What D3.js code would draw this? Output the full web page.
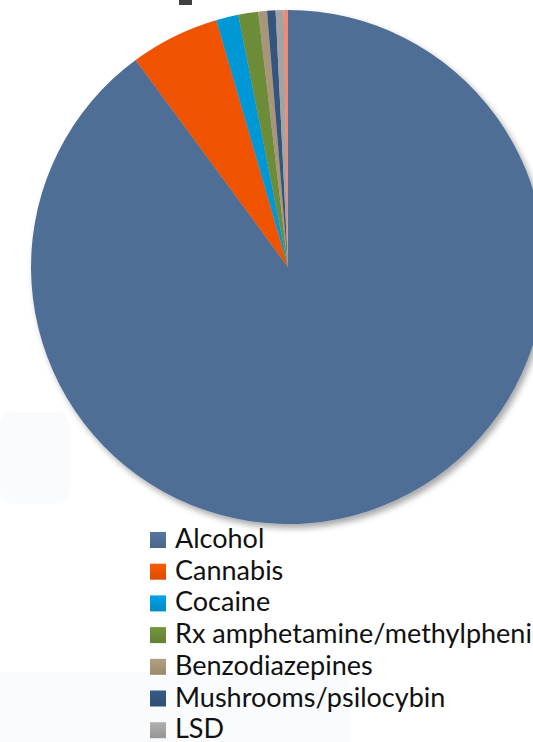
<!DOCTYPE html>
<html lang="en">
<head>
  <meta charset="UTF-8">
  <title>Substance pie</title>
  <script src="https://d3js.org/d3.v7.min.js"></script>
  <style>
    body { margin: 0; background: #fff; }
    text { font-family: Lato, "Open Sans", sans-serif; }
  </style>
</head>
<body>
  <div id="chart"></div>

  <script type="text/javascript">

  var w = 533;
  var h = 742;

  // data (share of total, %)
  var categories = ["Alcohol", "Cannabis", "Cocaine", "Rx amphetamine/methylphenidate",
                    "Benzodiazepines", "Mushrooms/psilocybin", "LSD", "Ecstasy/MDMA"];
  var values = [89.9, 5.6, 1.4, 1.25, 0.55, 0.53, 0.5, 0.27];
  var colors = ["#506E96", "#F05300", "#0097D6", "#6C8C38", "#A8967A", "#34557F", "#A3A3A3", "#F08A74"];

  var cx = 288, cy = 267;
  var outerRadius = 257;

  var svg = d3.select('#chart')
    .append('svg')
    .attr('width', w)
    .attr('height', h);

  var defs = svg.append("defs");
  var shadow = defs.append("filter")
    .attr("id", "shadow")
    .attr("x", "-10%").attr("y", "-10%")
    .attr("width", "125%").attr("height", "125%");
  shadow.append("feDropShadow")
    .attr("dx", 3).attr("dy", 4)
    .attr("stdDeviation", 3)
    .attr("flood-color", "#000")
    .attr("flood-opacity", 0.35);

  // legend swatches have a soft top-to-bottom shading
  colors.forEach(function(c, i) {
    var g = defs.append("linearGradient")
      .attr("id", "sw" + i)
      .attr("x1", 0).attr("y1", 0).attr("x2", 0).attr("y2", 1);
    g.append("stop").attr("offset", "0%").attr("stop-color", d3.color(c).brighter(0.2));
    g.append("stop").attr("offset", "100%").attr("stop-color", d3.color(c).darker(0.25));
  });

  // faint background shapes
  svg.append("rect")
    .attr("x", 0).attr("y", 412).attr("width", 70).attr("height", 92)
    .attr("rx", 14)
    .attr("fill", "#fafbfd");
  svg.append("rect")
    .attr("x", -20).attr("y", 672).attr("width", 370).attr("height", 90)
    .attr("rx", 14)
    .attr("fill", "#fafbfd");

  // bit of the title peeking in at the top
  svg.append("rect")
    .attr("x", 179).attr("y", 0)
    .attr("width", 13).attr("height", 5)
    .attr("fill", "#404040");

  var pie = d3.pie().sort(null);
  var arc = d3.arc()
    .innerRadius(0)
    .outerRadius(outerRadius);

  var pieG = svg.append("g")
    .attr("transform", "translate(" + cx + "," + cy + ")")
    .attr("filter", "url(#shadow)");

  pieG.selectAll("path")
    .data(pie(values))
    .enter()
    .append("path")
    .attr("fill", (d, i) => colors[i])
    .attr("d", arc);

  // legend
  var y = d3.scalePoint()
    .domain(categories)
    .range([548, 548 + 31.7 * (categories.length - 1)]);

  var legend = svg.selectAll("g.legend")
    .data(categories)
    .enter()
    .append("g")
    .attr("class", "legend")
    .attr("transform", d => "translate(150," + y(d) + ")");

  legend.append("rect")
    .attr("x", 0).attr("y", -16)
    .attr("width", 16).attr("height", 16)
    .attr("fill", (d, i) => "url(#sw" + i + ")");

  legend.append("text")
    .attr("x", 25).attr("y", 0)
    .attr("font-size", 27)
    .attr("fill", "#111")
    .text(d => d);

  </script>
</body>
</html>
